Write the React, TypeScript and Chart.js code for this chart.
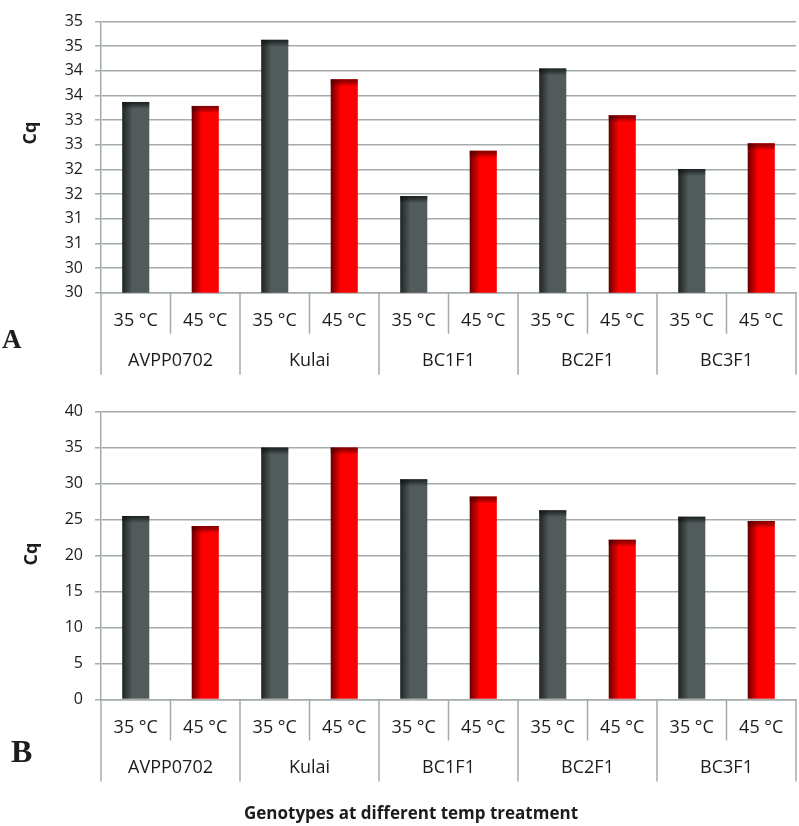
import React, { useEffect, useRef } from "react";
import { Chart, registerables } from "chart.js";

Chart.register(...registerables);

// ---------- data ----------
const genotypes = ["AVPP0702", "Kulai", "BC1F1", "BC2F1", "BC3F1"];
const temperatures = ["35 °C", "45 °C"];
const categories = genotypes.flatMap((g) => temperatures.map((t) => `${g} ${t}`));
const tempLabels = genotypes.flatMap(() => temperatures);

const cqPanelA = [33.87, 33.79, 35.13, 34.33, 31.96, 32.88, 34.55, 33.6, 32.51, 33.03];
const cqPanelB = [25.5, 24.1, 35.0, 35.0, 30.6, 28.2, 26.3, 22.2, 25.4, 24.8];

const axisA = { min: 30, max: 35.5, step: 0.5 };
const axisB = { min: 0, max: 40, step: 5 };

const yTitle = "Cq";
const xTitle = "Genotypes at different temp treatment";

// ---------- styles ----------
const GRID = "#a3abab";
const TEXT = "#1c1c1c";
const FONT = "'Open Sans', 'Liberation Sans', sans-serif";
const BAR_PCT = 0.39;
const COLORS = [
  { dark: "#1f2424", flat: "#525b5b" },
  { dark: "#6a0000", flat: "#ff0000" },
];

type PanelProps = {
  values: number[];
  axis: { min: number; max: number; step: number };
  width: number;
  height: number;
  padTop: number;
  plotBottom: number;
  letter: string;
  letterX: number;
  letterBaseline: number;
  letterSize: number;
  cqY: number;
  cqX: number;
  floorLabels: boolean;
  showXTitle: boolean;
  xTitleX?: number;
  xTitleY?: number;
};

function Panel(p: PanelProps) {
  const ref = useRef<HTMLCanvasElement | null>(null);

  useEffect(() => {
    const canvas = ref.current;
    if (!canvas) return;

    const decor = {
      id: "decor",
      afterDatasetsDraw(chart: any) {
        const ctx = chart.ctx;
        const meta = chart.getDatasetMeta(0);
        ctx.save();
        meta.data.forEach((el: any, i: number) => {
          const { x, y, width } = el.getProps(["x", "y", "width"], true);
          const g = ctx.createLinearGradient(0, y, 0, y + 7);
          const dark = i % 2 === 0 ? "rgba(10,14,14,0.75)" : "rgba(90,0,0,0.75)";
          g.addColorStop(0, dark);
          g.addColorStop(1, "rgba(0,0,0,0)");
          ctx.fillStyle = g;
          ctx.fillRect(x - width / 2, y, width, 7);
        });
        ctx.restore();
      },
      afterDraw(chart: any) {
        const ctx = chart.ctx;
        const xs = chart.scales.x;
        const bottom = chart.chartArea.bottom;
        const n = categories.length;
        ctx.save();
        ctx.strokeStyle = GRID;
        ctx.lineWidth = 1.5;
        for (let i = 0; i <= n; i++) {
          const x =
            i === 0
              ? xs.left
              : i === n
              ? xs.right
              : (xs.getPixelForValue(i - 1) + xs.getPixelForValue(i)) / 2;
          const len = i % 2 === 0 ? 82 : 41;
          ctx.beginPath();
          ctx.moveTo(x, bottom);
          ctx.lineTo(x, bottom + len);
          ctx.stroke();
        }
        ctx.fillStyle = TEXT;
        ctx.textAlign = "center";
        ctx.textBaseline = "middle";
        ctx.font = `18px ${FONT}`;
        tempLabels.forEach((t, i) => {
          ctx.fillText(t, xs.getPixelForValue(i), bottom + 28);
        });
        genotypes.forEach((g, gi) => {
          const cx = (xs.getPixelForValue(gi * 2) + xs.getPixelForValue(gi * 2 + 1)) / 2;
          ctx.fillText(g, cx, bottom + 68.5);
        });
        // axis title (y)
        ctx.save();
        ctx.translate(p.cqX, p.cqY);
        ctx.rotate(-Math.PI / 2);
        ctx.font = `bold 18px ${FONT}`;
        ctx.fillText(yTitle, 0, 0);
        ctx.restore();
        // panel letter
        ctx.textAlign = "left";
        ctx.textBaseline = "alphabetic";
        ctx.font = `bold ${p.letterSize}px 'Liberation Serif', 'Times New Roman', serif`;
        ctx.fillText(p.letter, p.letterX, p.letterBaseline);
        if (p.showXTitle) {
          ctx.textAlign = "center";
          ctx.textBaseline = "middle";
          ctx.font = `bold 17px ${FONT}`;
          ctx.fillText(xTitle, p.xTitleX, p.xTitleY);
        }
        ctx.restore();
      },
    };

    const chart = new Chart(canvas, {
      type: "bar",
      data: {
        labels: categories,
        datasets: [
          {
            data: p.values,
            backgroundColor: (c: any) => {
              const idx = c.dataIndex;
              const base = COLORS[(idx ?? 0) % 2];
              const ch = c.chart;
              const xs = ch.scales && ch.scales.x;
              if (idx === undefined || !xs || !ch.chartArea) return base.flat;
              const cx = xs.getPixelForValue(idx);
              const w = (xs.width / categories.length) * BAR_PCT;
              const g = ch.ctx.createLinearGradient(cx - w / 2, 0, cx + w / 2, 0);
              g.addColorStop(0, base.dark);
              g.addColorStop(0.38, base.flat);
              g.addColorStop(1, base.flat);
              return g;
            },
            borderWidth: 0,
            categoryPercentage: 1,
            barPercentage: BAR_PCT,
          },
        ],
      },
      options: {
        responsive: false,
        animation: false,
        layout: { padding: { top: p.padTop, right: 3, left: 0, bottom: 0 } },
        plugins: { legend: { display: false }, tooltip: { enabled: false } },
        scales: {
          x: {
            type: "category",
            grid: { display: false },
            border: { display: true, color: GRID, width: 1.5 },
            ticks: { display: false },
            afterFit: (s: any) => {
              s.height = p.height - p.plotBottom;
            },
          },
          y: {
            min: p.axis.min,
            max: p.axis.max,
            grid: { color: GRID, lineWidth: 1.5, tickLength: 6, drawTicks: true },
            border: { display: true, color: GRID, width: 1.5 },
            ticks: {
              stepSize: p.axis.step,
              padding: 12,
              color: TEXT,
              font: { family: FONT, size: 16 },
              callback: (v: any) => (p.floorLabels ? String(Math.floor(Number(v))) : String(v)),
            },
            afterFit: (s: any) => {
              s.width = 101;
            },
          },
        },
      },
      plugins: [decor],
    } as any);

    return () => chart.destroy();
  }, []);

  return <canvas ref={ref} width={p.width} height={p.height} style={{ display: "block" }} />;
}

export default function App() {
  return (
    <div style={{ position: "absolute", left: 0, top: 0, width: 799, height: 826, background: "#fff" }}>
      <Panel
        values={cqPanelA}
        axis={axisA}
        width={799}
        height={390}
        padTop={14}
        plotBottom={292.7}
        letter="A"
        letterX={2}
        letterBaseline={348}
        letterSize={27}
        cqX={31}
        cqY={133}
        floorLabels={true}
        showXTitle={false}
      />
      <Panel
        values={cqPanelB}
        axis={axisB}
        width={799}
        height={436}
        padTop={18.5}
        plotBottom={309.5}
        letter="B"
        letterX={11}
        letterBaseline={372}
        letterSize={32}
        cqX={32}
        cqY={164}
        floorLabels={false}
        showXTitle={true}
        xTitleX={411}
        xTitleY={424}
      />
    </div>
  );
}
